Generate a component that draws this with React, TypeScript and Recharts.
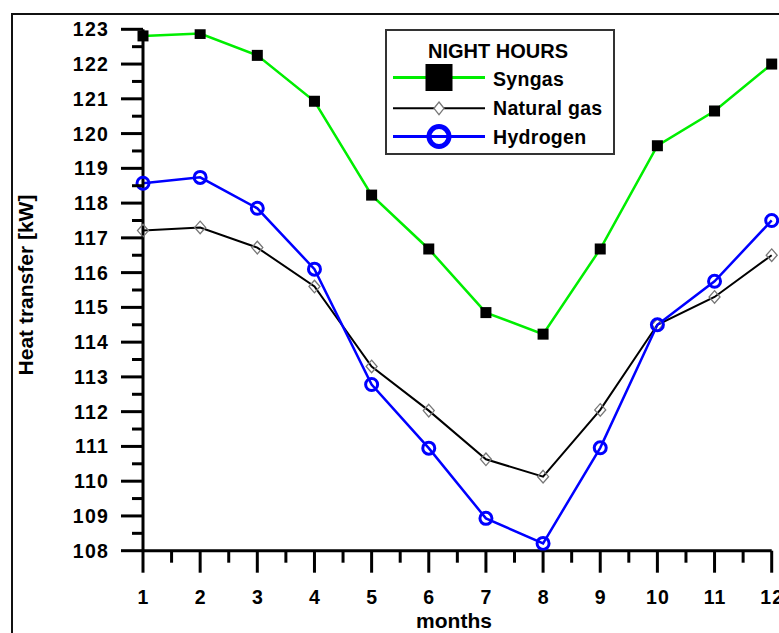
import React from 'react';
import { LineChart, Line, XAxis, YAxis, Legend, Label } from 'recharts';

const months = [1, 2, 3, 4, 5, 6, 7, 8, 9, 10, 11, 12];
const syngas = [122.81, 122.88, 122.25, 120.93, 118.23, 116.68, 114.85, 114.23, 116.68, 119.65, 120.65, 122.0];
const naturalGas = [117.21, 117.3, 116.72, 115.6, 113.3, 112.03, 110.63, 110.13, 112.05, 114.5, 115.3, 116.5];
const hydrogen = [118.57, 118.74, 117.85, 116.1, 112.78, 110.95, 108.93, 108.21, 110.96, 114.5, 115.75, 117.5];

const xMajorTicks = months;
const yMajorTicks = [108, 109, 110, 111, 112, 113, 114, 115, 116, 117, 118, 119, 120, 121, 122, 123];

const seriesNames = { syngas: 'Syngas', naturalGas: 'Natural gas', hydrogen: 'Hydrogen' };
const legendTitle = 'NIGHT HOURS';
const xTitle = 'months';
const yTitle = 'Heat transfer [kW]';

const withMinor = (major: number[]) => {
  const out: number[] = [];
  major.forEach((v, i) => {
    out.push(v);
    if (i < major.length - 1) out.push((v + major[i + 1]) / 2);
  });
  return out;
};

const data = months.map((m, i) => ({
  month: m,
  syngas: syngas[i],
  naturalGas: naturalGas[i],
  hydrogen: hydrogen[i],
}));

const FONT = '"Liberation Sans", Arial, sans-serif';
const GREEN = '#00ee00';
const BLUE = '#0000ff';

const YTick = (props: any) => {
  const { x, y, payload } = props;
  const major = Number.isInteger(payload.value);
  return (
    <g>
      <line x1={x} x2={x - (major ? 22 : 11)} y1={y} y2={y} stroke="#000" strokeWidth={3} />
      {major && (
        <text
          x={x - 34}
          y={y}
          textAnchor="end"
          dominantBaseline="central"
          fontFamily={FONT}
          fontWeight="bold"
          fontSize={19.5}
          letterSpacing={1.2}
          fill="#000"
        >
          {payload.value}
        </text>
      )}
    </g>
  );
};

const XTick = (props: any) => {
  const { x, y, payload } = props;
  const major = Number.isInteger(payload.value);
  return (
    <g>
      <line x1={x} x2={x} y1={y} y2={y + (major ? 22 : 12)} stroke="#000" strokeWidth={3} />
      {major && (
        <text
          x={x + 0.6}
          y={y + 46}
          textAnchor="middle"
          dominantBaseline="central"
          fontFamily={FONT}
          fontWeight="bold"
          fontSize={19.5}
          letterSpacing={1.2}
          fill="#000"
        >
          {payload.value}
        </text>
      )}
    </g>
  );
};

const SquareDot = (props: any) => {
  const { cx, cy } = props;
  if (cx == null || cy == null) return null;
  return <rect x={cx - 5.5} y={cy - 5.5} width={11} height={11} fill="#000" />;
};

const DiamondDot = (props: any) => {
  const { cx, cy } = props;
  if (cx == null || cy == null) return null;
  return (
    <polygon
      points={`${cx},${cy - 6.3} ${cx + 5.5},${cy} ${cx},${cy + 6.3} ${cx - 5.5},${cy}`}
      fill="none"
      stroke="#777"
      strokeWidth={1.3}
    />
  );
};

const CircleDot = (props: any) => {
  const { cx, cy } = props;
  if (cx == null || cy == null) return null;
  return <circle cx={cx} cy={cy} r={6} fill="none" stroke={BLUE} strokeWidth={3} />;
};

const LegendBox = () => {
  const rows = [
    { name: seriesNames.syngas, y: 48.5, color: GREEN, w: 3 },
    { name: seriesNames.naturalGas, y: 79.3, color: '#000', w: 2 },
    { name: seriesNames.hydrogen, y: 107.5, color: BLUE, w: 3 },
  ];
  return (
    <div
      style={{
        width: 230,
        height: 126,
        boxSizing: 'border-box',
        border: '2px solid #333',
        background: '#fff',
        position: 'relative',
      }}
    >
      <svg width={230} height={126} style={{ position: 'absolute', left: -2, top: -2 }}>
        <text
          x={113}
          y={22}
          textAnchor="middle"
          dominantBaseline="central"
          fontFamily={FONT}
          fontWeight="bold"
          fontSize={20}
          fill="#000"
        >
          {legendTitle}
        </text>
        {rows.map((r, i) => (
          <g key={r.name}>
            <line x1={8} x2={100} y1={r.y} y2={r.y} stroke={r.color} strokeWidth={r.w} />
            {i === 0 && <rect x={54 - 13.5} y={r.y - 13.5} width={27} height={27} fill="#000" />}
            {i === 1 && (
              <polygon
                points={`54,${r.y - 6.3} 59,${r.y} 54,${r.y + 6.3} 49,${r.y}`}
                fill="#fff"
                stroke="#777"
                strokeWidth={1.3}
              />
            )}
            {i === 2 && <circle cx={54} cy={r.y} r={10} fill="none" stroke={BLUE} strokeWidth={5} />}
            <text
              x={108}
              y={r.y + (i === 0 ? 1.5 : 0)}
              dominantBaseline="central"
              fontFamily={FONT}
              fontWeight="bold"
              fontSize={19.5}
              letterSpacing={0.3}
              fill="#000"
            >
              {r.name}
            </text>
          </g>
        ))}
      </svg>
    </div>
  );
};

export default function App() {
  return (
    <div style={{ position: 'absolute', left: 0, top: 0, width: 779, height: 633, background: '#fff', overflow: 'hidden' }}>
      <div
        style={{
          position: 'absolute',
          left: 11,
          top: 13,
          width: 780,
          height: 640,
          borderTop: '2.5px solid #111',
          borderLeft: '2.5px solid #111',
        }}
      />
      <div style={{ position: 'absolute', left: 0, top: 0 }}>
        <LineChart width={779} height={633} data={data} margin={{ top: 29.3, right: 7.3, bottom: 0, left: 0 }}>
          <XAxis
            dataKey="month"
            type="number"
            domain={[1, 12]}
            ticks={withMinor(xMajorTicks)}
            interval={0}
            tickSize={0}
            tickMargin={0}
            tickLine={false}
            tick={<XTick />}
            height={82.3}
            axisLine={{ stroke: '#000', strokeWidth: 3 }}
          >
            <Label
              content={() => (
                <text x={454} y={628} textAnchor="middle" fontFamily={FONT} fontWeight="bold" fontSize={21} fill="#000">
                  {xTitle}
                </text>
              )}
            />
          </XAxis>
          <YAxis
            type="number"
            domain={[108, 123]}
            ticks={withMinor(yMajorTicks)}
            interval={0}
            tickSize={0}
            tickMargin={0}
            tickLine={false}
            tick={<YTick />}
            width={143}
            allowDataOverflow
            axisLine={{ stroke: '#000', strokeWidth: 3 }}
          >
            <Label
              content={() => (
                <text
                  x={32.5}
                  y={285}
                  transform="rotate(-90 32.5 285)"
                  textAnchor="middle"
                  fontFamily={FONT}
                  fontWeight="bold"
                  fontSize={21}
                  fill="#000"
                >
                  {yTitle}
                </text>
              )}
            />
          </YAxis>
          <Legend
            layout="vertical"
            align="center"
            verticalAlign="middle"
            wrapperStyle={{ left: 385, top: 29, width: 230, height: 126 }}
            content={() => <LegendBox />}
          />
          <Line
            dataKey="naturalGas"
            name={seriesNames.naturalGas}
            stroke="#000"
            strokeWidth={2}
            dot={<DiamondDot />}
            activeDot={false}
            isAnimationActive={false}
          />
          <Line
            dataKey="hydrogen"
            name={seriesNames.hydrogen}
            stroke={BLUE}
            strokeWidth={2.5}
            dot={<CircleDot />}
            activeDot={false}
            isAnimationActive={false}
          />
          <Line
            dataKey="syngas"
            name={seriesNames.syngas}
            stroke={GREEN}
            strokeWidth={2.5}
            dot={<SquareDot />}
            activeDot={false}
            isAnimationActive={false}
          />
        </LineChart>
      </div>
    </div>
  );
}
